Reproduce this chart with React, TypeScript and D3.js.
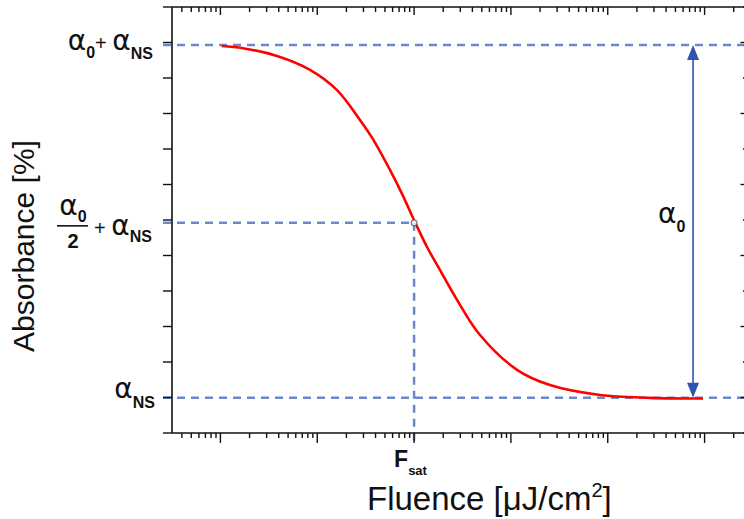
import React from "react";
import * as d3 from "d3";

// curve (fluence in units of F_sat, absorbance in tick units)
const fluence = [0.0103, 0.0171, 0.0384, 0.0841, 0.16, 0.276, 0.376, 0.564, 0.768, 1.022, 1.36, 1.853, 2.776, 4.796, 11.56, 25.3, 83.2, 273, 964];
const absorbance = [10.9, 10.84, 10.62, 10.23, 9.66, 8.82, 8.28, 7.41, 6.68, 5.94, 5.24, 4.59, 3.75, 2.76, 1.78, 1.35, 1.07, 0.99, 0.97];

// reference levels
const levelTop = 10.93; // alpha0 + alphaNS
const levelHalf = 5.92; // alpha0/2 + alphaNS
const levelNS = 0.99; // alphaNS
const fSat = 1;
const arrowF = 760;

const yTicks = [0, 1, 2, 3, 4, 5, 6, 7, 8, 9, 10, 11, 12];
const xDomain = [Math.pow(10, -2.5), Math.pow(10, 3.5)];

const FONT = "'Liberation Sans', Arial, sans-serif";
const GREEK = "'DejaVu Sans', sans-serif";
const DASH = "#6d87cc";
const ARROW = "#2f55b0";

export default function App() {
  const W = 744;
  const H = 519;
  const left = 172;
  const right = 753;
  const top = 7;
  const bottom = 433;

  const x = d3.scaleLog().domain(xDomain).range([left, right]);
  const y = d3.scaleLinear().domain([0, 12]).range([bottom, top]);

  const xTicks = x.ticks().filter((t) => t > xDomain[0] && t < xDomain[1]);
  const isDecade = (t) => Math.abs(Math.log10(t) - Math.round(Math.log10(t))) < 1e-9;

  const pts = fluence.map((f, i) => [x(f), y(absorbance[i])]);
  const line = d3.line().curve(d3.curveCatmullRom.alpha(0.5))(pts);

  const ax = x(arrowF);
  const yT = y(levelTop);
  const yN = y(levelNS);
  const yH = y(levelHalf);
  const xs = x(fSat);

  return (
    <svg width={W} height={H} style={{ position: "absolute", left: 0, top: 0 }} fontFamily={FONT}>
      <rect x={0} y={0} width={W} height={H} fill="white" />

      {/* dashed guide lines */}
      <line x1={left - 9} x2={W} y1={yT} y2={yT} stroke={DASH} strokeWidth={2.5} strokeDasharray="8 6" />
      <line x1={left - 9} x2={xs} y1={yH} y2={yH} stroke={DASH} strokeWidth={2.5} strokeDasharray="8 6" />
      <line x1={left - 9} x2={W} y1={yN} y2={yN} stroke={DASH} strokeWidth={2.5} strokeDasharray="8 6" />
      <line x1={xs} x2={xs} y1={yH} y2={bottom + 13} stroke={DASH} strokeWidth={2.5} strokeDasharray="8 6" />

      {/* frame */}
      <line x1={left} x2={left} y1={top} y2={bottom} stroke="#111" strokeWidth={1.6} />
      <line x1={right} x2={right} y1={top} y2={bottom} stroke="#111" strokeWidth={1.6} />
      <line x1={left} x2={right} y1={top} y2={top} stroke="#111" strokeWidth={1.6} />
      <line x1={left} x2={right} y1={bottom} y2={bottom} stroke="#111" strokeWidth={1.6} />

      {yTicks.map((t) => (
        <g key={"y" + t}>
          <line x1={left - 9} x2={left} y1={y(t)} y2={y(t)} stroke="#111" strokeWidth={1.4} />
          <line x1={right - (t % 2 ? 12.5 : 10)} x2={right} y1={y(t)} y2={y(t)} stroke="#111" strokeWidth={1.4} />
        </g>
      ))}
      {xTicks.map((t, i) => {
        const big = isDecade(t);
        return (
          <g key={"x" + i}>
            <line x1={x(t)} x2={x(t)} y1={bottom} y2={bottom + (big ? 10 : 5)} stroke="#111" strokeWidth={1.4} />
            <line x1={x(t)} x2={x(t)} y1={top} y2={top + (big ? 8 : 5)} stroke="#111" strokeWidth={1.4} />
          </g>
        );
      })}

      {/* curve */}
      <path d={line} fill="none" stroke="#ff0000" strokeWidth={2.6} />
      <circle cx={xs} cy={yH} r={3} fill="#e6e6e6" stroke="#555" strokeWidth={1} />

      {/* alpha0 arrow */}
      <line x1={ax} x2={ax} y1={yT + 12} y2={yN - 12} stroke={ARROW} strokeWidth={1.6} />
      <polygon points={`${ax},${yT} ${ax - 6},${yT + 15} ${ax + 6},${yT + 15}`} fill={ARROW} />
      <polygon points={`${ax},${yN} ${ax - 6},${yN - 15} ${ax + 6},${yN - 15}`} fill={ARROW} />
      <text x={ax - 35} y={yH} fontSize={28} fill="#111">
        <tspan fontFamily={GREEK}>α</tspan>
        <tspan fontSize={16} fontWeight="bold" dy={9}>0</tspan>
      </text>

      {/* left labels */}
      <text x={153} y={yT + 5} textAnchor="end" fontSize={28} fill="#111">
        <tspan fontFamily={GREEK}>α</tspan>
        <tspan fontSize={16} fontWeight="bold" dy={8}>0</tspan>
        <tspan fontSize={20} dy={-8}>+ </tspan>
        <tspan fontFamily={GREEK}>α</tspan>
        <tspan fontSize={16} fontWeight="bold" dy={9}>NS</tspan>
      </text>

      <text x={73} y={yH - 8} textAnchor="middle" fontSize={28} fill="#111">
        <tspan fontFamily={GREEK}>α</tspan>
        <tspan fontSize={16} fontWeight="bold" dy={7}>0</tspan>
      </text>
      <line x1={57} x2={88} y1={yH + 3} y2={yH + 3} stroke="#111" strokeWidth={1.6} />
      <text x={73} y={yH + 25} textAnchor="middle" fontSize={20} fontWeight="bold" fill="#111">2</text>
      <text x={152} y={yH + 12} textAnchor="end" fontSize={28} fill="#111">
        <tspan fontSize={20}>+ </tspan>
        <tspan fontFamily={GREEK}>α</tspan>
        <tspan fontSize={16} fontWeight="bold" dy={7}>NS</tspan>
      </text>

      <text x={155} y={yN} textAnchor="end" fontSize={28} fill="#111">
        <tspan fontFamily={GREEK}>α</tspan>
        <tspan fontSize={16} fontWeight="bold" dy={10}>NS</tspan>
      </text>

      {/* F_sat */}
      <text x={xs - 20} y={467} fontSize={23} fontWeight="bold" fill="#111">
        F<tspan fontSize={13} dy={8}>sat</tspan>
      </text>

      {/* axis titles */}
      <text x={367} y={510} fontSize={33} fill="#111">
        Fluence [μJ/cm<tspan fontSize={20} dy={-13}>2</tspan><tspan dy={13}>]</tspan>
      </text>
      <text transform="translate(34,246) rotate(-90)" textAnchor="middle" fontSize={30} fill="#111">
        Absorbance [%]
      </text>
    </svg>
  );
}
